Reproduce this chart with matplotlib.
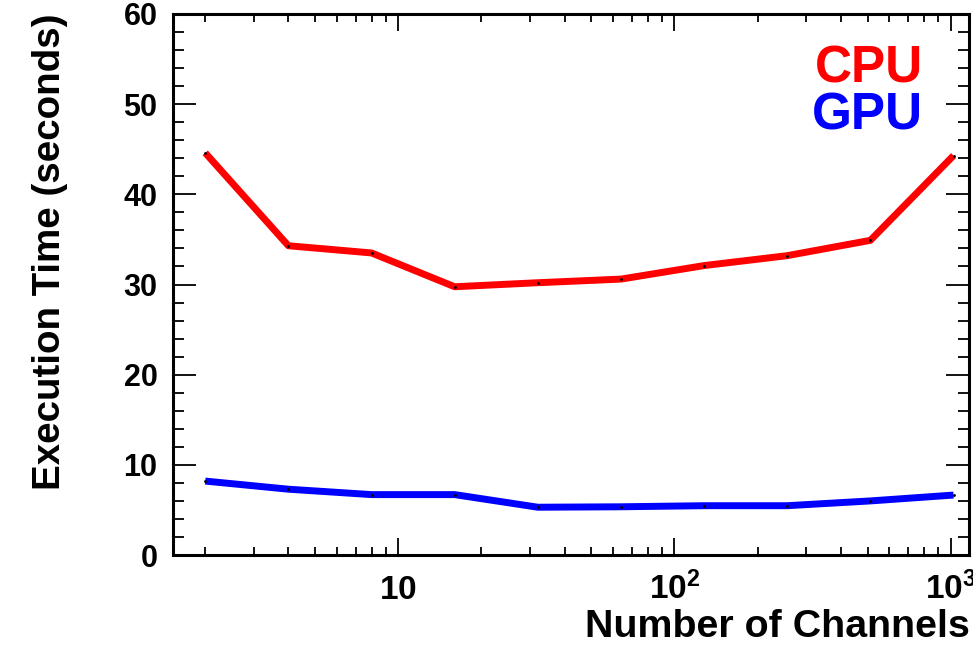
import matplotlib
matplotlib.use("Agg")
import matplotlib.pyplot as plt
from matplotlib.ticker import LogLocator, MultipleLocator, NullFormatter

plt.rcParams['font.family'] = ['Liberation Sans', 'DejaVu Sans']
plt.rcParams['font.weight'] = 'bold'
plt.rcParams['axes.labelweight'] = 'bold'

# Data
channels = [2, 4, 8, 16, 32, 64, 128, 256, 512, 1024]
cpu_time = [44.6, 34.3, 33.5, 29.75, 30.2, 30.6, 32.1, 33.2, 34.9, 44.3]
gpu_time = [8.2, 7.3, 6.7, 6.7, 5.3, 5.35, 5.47, 5.47, 6.0, 6.65]

x_ticks = [10, 100, 1000]
x_tick_labels = [r'$\mathdefault{10}$', r'$\mathdefault{10^{2}}$', r'$\mathdefault{10^{3}}$']


def plot_times():
    fig = plt.figure(figsize=(9.73, 6.45), dpi=100)
    ax = fig.add_axes([0.1775, 0.1395, 0.8184, 0.8388])

    ax.plot(channels, cpu_time, color='#ff0000', lw=5, solid_capstyle='butt',
            marker='o', ms=1.0, mfc='k', mec='k')
    ax.plot(channels, gpu_time, color='#0000ff', lw=5, solid_capstyle='butt',
            marker='o', ms=1.0, mfc='k', mec='k')

    ax.set_xscale('log')
    ax.set_xlim(1.525, 1165)
    ax.set_ylim(0, 60)

    # ROOT-like ticks: inward, on all four sides
    ax.set_xticks(x_ticks, x_tick_labels, va='baseline', fontsize=24)
    ax.xaxis.set_minor_locator(LogLocator(base=10, subs=range(2, 10)))
    ax.xaxis.set_minor_formatter(NullFormatter())
    ax.yaxis.set_major_locator(MultipleLocator(10))
    ax.yaxis.set_minor_locator(MultipleLocator(2))
    ax.tick_params(which='both', direction='in', top=True, right=True, width=1.3)
    ax.tick_params(axis='x', which='major', length=12, pad=32)
    ax.tick_params(axis='x', which='minor', length=6)
    ax.tick_params(axis='y', which='major', length=16.5, pad=11, labelsize=22)
    ax.tick_params(axis='y', which='minor', length=8)
    for spine in ax.spines.values():
        spine.set_linewidth(2.2)

    ax.set_xlabel('Number of Channels', fontsize=28.4, loc='right', va='baseline')
    ax.xaxis.set_label_coords(1.0013, -0.1516)
    ax.set_ylabel('Execution Time (seconds)', fontsize=27.7, loc='top', va='baseline')
    ax.yaxis.set_label_coords(-0.1415, 1.0)

    ax.text(0.942, 0.8725, 'CPU', color='#ff0000', fontsize=37,
            ha='right', va='baseline', transform=ax.transAxes)
    ax.text(0.942, 0.7856, 'GPU', color='#0000ff', fontsize=37,
            ha='right', va='baseline', transform=ax.transAxes)

    fig.savefig('out.png', dpi=100)


if __name__ == "__main__":
    plot_times()
